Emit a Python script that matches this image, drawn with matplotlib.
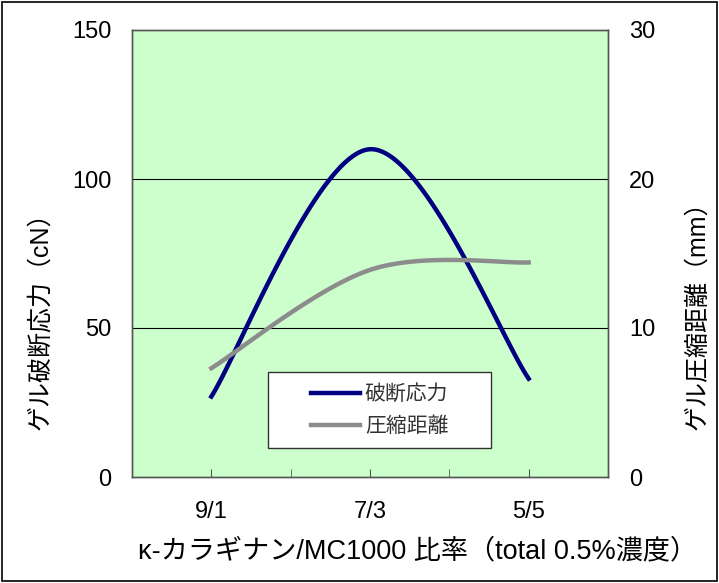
import matplotlib.pyplot as plt
import numpy as np
from matplotlib.patches import Rectangle

plt.rcParams['font.family'] = ['Liberation Sans', 'Noto Sans CJK JP']

# data
categories = ["9/1", "7/3", "5/5"]
break_stress = [27, 110, 33]        # ゲル破断応力 (cN), left axis
compress_dist = [7.3, 13.9, 14.4]   # ゲル圧縮距離 (mm), right axis


# Excel-like smoothed line (Bezier through the points, tension 1/6)
def excel_smooth(y, n=60):
    x = np.arange(len(y), dtype=float)
    y = np.asarray(y, dtype=float)
    px = np.concatenate([[x[0]], x, [x[-1]]])
    py = np.concatenate([[y[0]], y, [y[-1]]])
    xs, ys = [], []
    t = np.linspace(0, 1, n)
    for i in range(len(x) - 1):
        p0 = np.array([px[i + 1], py[i + 1]])
        p3 = np.array([px[i + 2], py[i + 2]])
        c1 = p0 + (p3 - np.array([px[i], py[i]])) / 6
        c2 = p3 - (np.array([px[i + 3], py[i + 3]]) - p0) / 6
        b = ((1 - t) ** 3)[:, None] * p0 + (3 * (1 - t) ** 2 * t)[:, None] * c1 \
            + (3 * (1 - t) * t ** 2)[:, None] * c2 + (t ** 3)[:, None] * p3
        xs.append(b[:, 0])
        ys.append(b[:, 1])
    return np.concatenate(xs), np.concatenate(ys)


fig = plt.figure(figsize=(7.19, 5.83), dpi=100)
ax = fig.add_axes([132 / 719, 1 - 477 / 583, 476 / 719, 447 / 583])
ax2 = ax.twinx()

ax.set_facecolor("#CCFFCC")
ax.set_xlim(-0.5, len(categories) - 0.5)
ax.set_ylim(0, 150)
ax2.set_ylim(0, 30)

# gridlines
for v in [50, 100]:
    ax.axhline(v, color="black", lw=0.8, zorder=1)

xb, yb = excel_smooth(break_stress)
xg, yg = excel_smooth(compress_dist)
l1, = ax.plot(xb, yb, color="#000080", lw=3.2, zorder=3, label="破断応力")
l2, = ax2.plot(xg, yg, color="#8C8C8C", lw=3.2, zorder=3, label="圧縮距離")

# axes styling
for a in (ax, ax2):
    for s in a.spines.values():
        s.set_color("#555555")
        s.set_linewidth(1.0)

ax.set_xticks(range(len(categories)))
ax.set_xticklabels(categories, fontsize=17)
ax.set_xticks([0.5, 1.5], minor=True)
ax.tick_params(axis="x", which="both", direction="in", length=6, color="#555555", pad=17)
ax.set_yticks([0, 50, 100, 150])
ax.tick_params(axis="y", length=0, labelsize=17, pad=15)
ax2.set_yticks([0, 10, 20, 30])
ax2.tick_params(axis="y", length=0, labelsize=17, pad=15)

# legend box and entries
ax2.add_patch(Rectangle((0.286, 0.065), 0.468, 0.17, transform=ax.transAxes,
                        facecolor="white", edgecolor="#333333", lw=1.0, zorder=4))
leg = ax2.legend(handles=[l1, l2], loc="center", bbox_to_anchor=(0.52, 0.15),
                 fontsize=15, frameon=False, handlelength=2.35,
                 labelspacing=0.6, handletextpad=0.25, borderaxespad=0)
leg.set_zorder(5)
for t in leg.get_texts():
    t.set_color("#333333")

# axis titles
fig.text(40 / 719, 1 - 315 / 583, "ゲル破断応力（cN）", rotation=90,
         ha="center", va="center", fontsize=18)
fig.text(697 / 719, 1 - 309 / 583, "ゲル圧縮距離（mm）", rotation=90,
         ha="center", va="center", fontsize=18)
fig.text(418 / 719, 1 - 551 / 583, "κ-カラギナン/MC1000 比率（total 0.5%濃度）",
         ha="center", va="center", fontsize=19.5)

# outer frame
fig.patches.append(Rectangle((0.003, 0.004), 0.994, 0.992, transform=fig.transFigure,
                             fill=False, edgecolor="black", lw=1.2))

fig.savefig("out.png", dpi=100)
